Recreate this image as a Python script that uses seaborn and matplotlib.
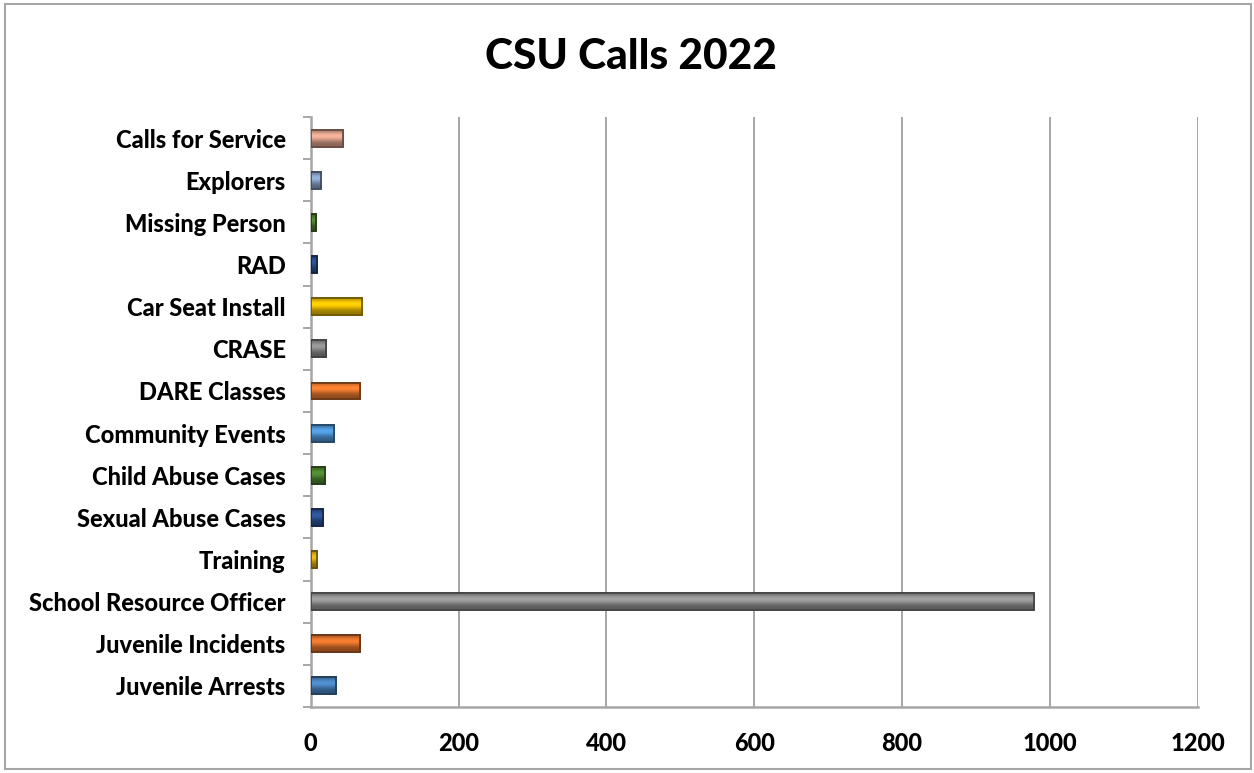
import matplotlib
matplotlib.use("Agg")
import matplotlib.pyplot as plt
import matplotlib.patches as mpatches
from matplotlib.ticker import MultipleLocator, FixedLocator
import numpy as np
import pandas as pd
import seaborn as sns

# categories as shown top to bottom
categories = ['Calls for Service', 'Explorers', 'Missing Person', 'RAD',
              'Car Seat Install', 'CRASE', 'DARE Classes', 'Community Events',
              'Child Abuse Cases', 'Sexual Abuse Cases', 'Training',
              'School Resource Officer', 'Juvenile Incidents', 'Juvenile Arrests']
calls = [43, 14, 7, 9, 70, 20, 66, 31, 19, 17, 9, 978, 66, 34]
bar_colors = ['#E2A590', '#8AA4CC', '#4E7F30', '#2D4F91', '#F2C200', '#8E8E8E',
              '#EA7A30', '#4F97D8', '#4E8532', '#2D5296', '#E0AE10', '#959595',
              '#E3742C', '#4A85C2']

x_ticks = [0, 200, 400, 600, 800, 1000, 1200]

df = pd.DataFrame({'Category': categories, 'Calls': calls})

sns.set_style('white')
plt.rcParams['font.family'] = ['Lato', 'DejaVu Sans']

fig = plt.figure(figsize=(12.54, 7.73), dpi=100)
ax = fig.add_axes([0.2478, 0.0854, 0.9551 - 0.2478, 0.8486 - 0.0854])

sns.barplot(data=df, x='Calls', y='Category', hue='Category', palette=bar_colors,
            legend=False, width=0.4, ax=ax, zorder=3)

# bevel-style shading on each bar
grad = np.linspace(0, 1, 64).reshape(-1, 1)
shade = 0.55 + 0.45 * np.exp(-((grad - 0.35) / 0.3) ** 2)
for p, c in zip(ax.patches, bar_colors):
    rgb = np.array(matplotlib.colors.to_rgb(c))
    img = np.clip(shade[..., None] * rgb[None, None, :] * 1.1, 0, 1)
    x0, y0 = p.get_x(), p.get_y()
    w, h = p.get_width(), p.get_height()
    im = ax.imshow(img, extent=[x0, x0 + w, y0 + h, y0], aspect='auto',
                   zorder=4, interpolation='bilinear')
    im.set_clip_path(p)
    p.set_edgecolor(tuple(rgb * 0.45))
    p.set_linewidth(1.2)
    edge = mpatches.Rectangle((x0, y0), w, h, fill=False,
                              edgecolor=tuple(rgb * 0.45), linewidth=1.2, zorder=5)
    ax.add_patch(edge)

ax.set_xlim(0, 1200)
ax.set_ylim(len(categories) - 0.5, -0.5)
ax.xaxis.set_major_locator(FixedLocator(x_ticks))
ax.grid(axis='x', color='#A6A6A6', linewidth=1.4, zorder=0)
ax.set_axisbelow(True)

for s in ['top', 'right']:
    ax.spines[s].set_visible(False)
for s in ['left', 'bottom']:
    ax.spines[s].set_color('#A6A6A6')
    ax.spines[s].set_linewidth(1.8)

ax.tick_params(axis='x', which='major', length=6, width=1.4, color='#A6A6A6',
               pad=12, labelsize=17)
ax.tick_params(axis='y', which='major', length=0, pad=18, labelsize=17)
ax.yaxis.set_minor_locator(MultipleLocator(1, offset=0.5))
ax.tick_params(axis='y', which='minor', length=6, width=1.4, color='#A6A6A6', left=True)
for lbl in ax.get_xticklabels() + ax.get_yticklabels():
    lbl.set_fontweight('black')
    lbl.set_color('black')

ax.set_xlabel('')
ax.set_ylabel('')

fig.text(0.503, 0.926, 'CSU Calls 2022', ha='center', va='center',
         fontsize=30.5, fontweight='black', color='black')

fig.patches.append(mpatches.Rectangle((0.004, 0.005), 0.994, 0.99, transform=fig.transFigure,
                                      fill=False, edgecolor='#A6A6A6', linewidth=1.5))

fig.savefig('out.png', dpi=100)
